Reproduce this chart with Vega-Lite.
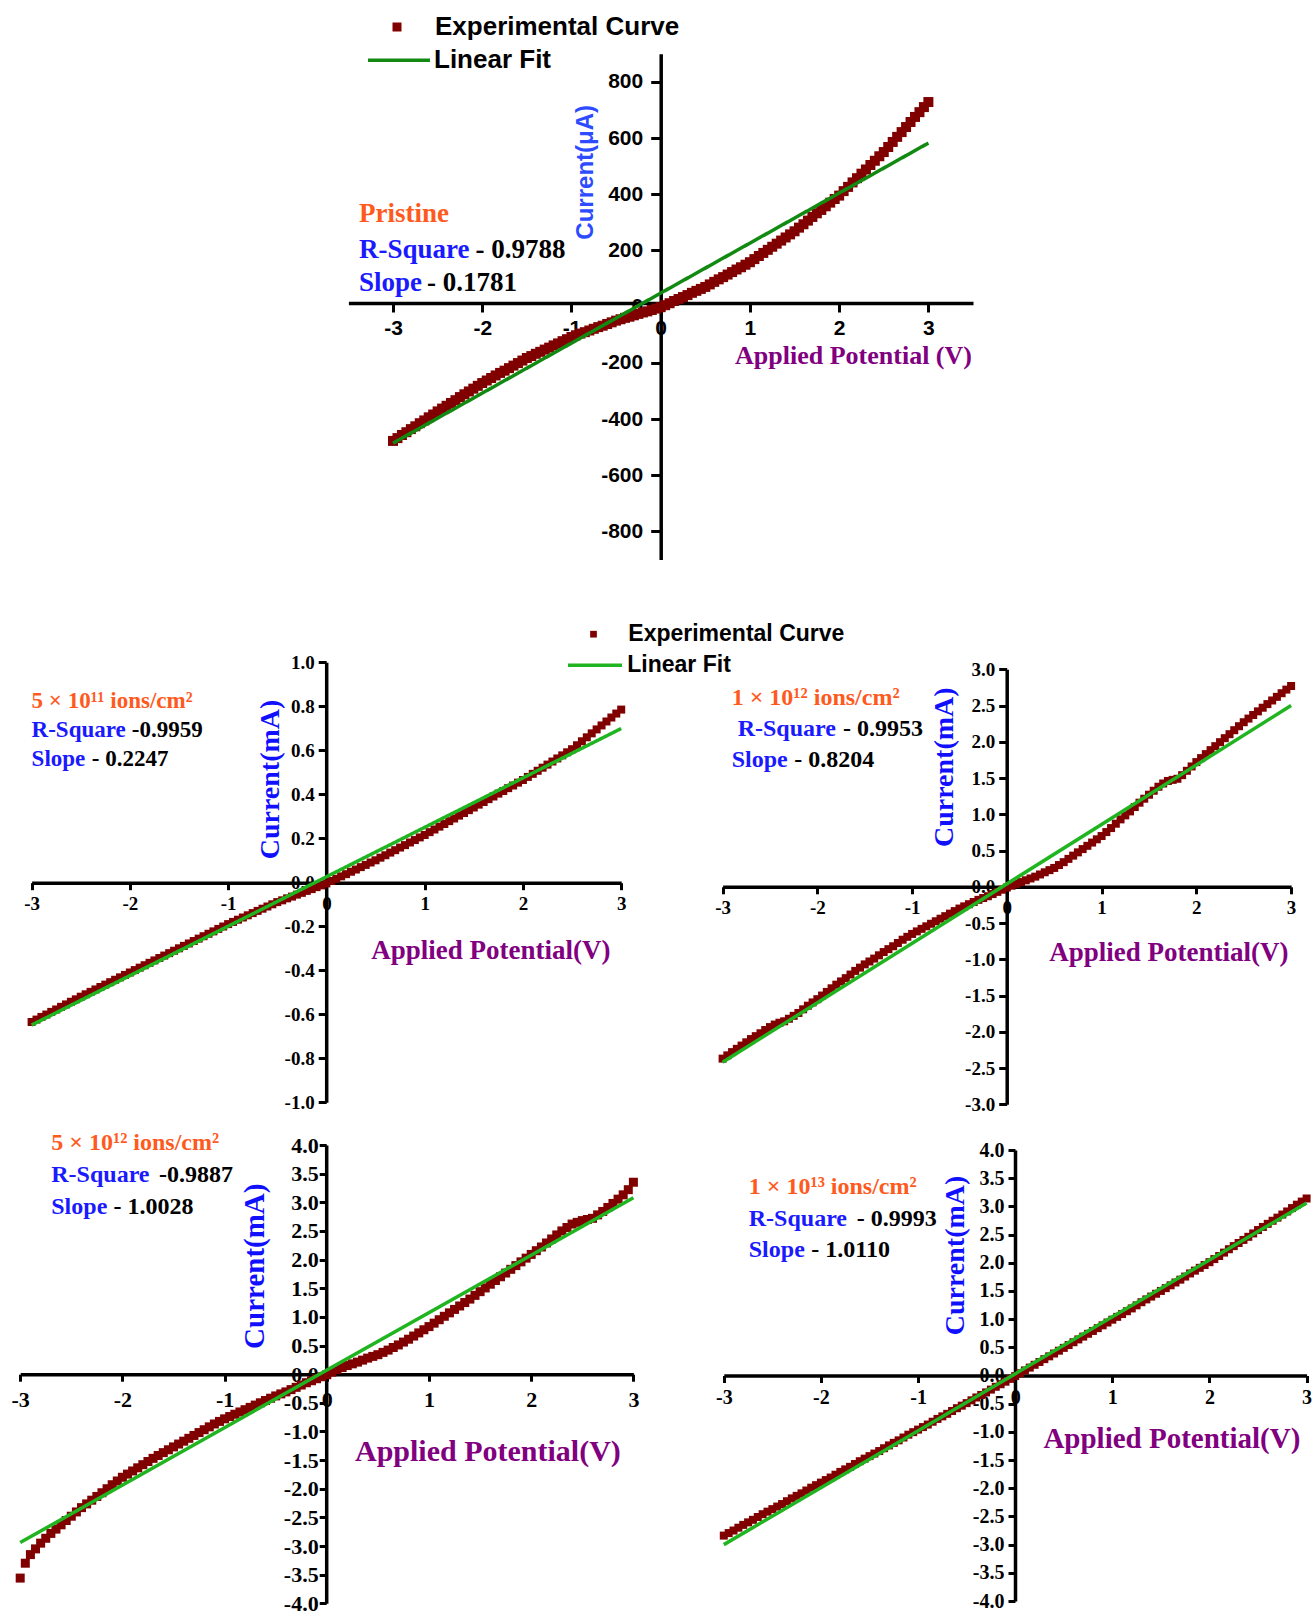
{
"$schema":"https://vega.github.io/schema/vega-lite/v6.json",
"width":1313,"height":1615,"autosize":{"type":"none"},"padding":0,"background":"white",
"config":{
 "locale":{"number":{"decimal":".","thousands":",","grouping":[3],"currency":["$",""],"minus":"-"}},
 "view":{"stroke":null},
 "axis":{"grid":false,"domainColor":"black","domainWidth":3.5,"tickColor":"black","tickWidth":3,"labelColor":"black","labelFont":"Liberation Serif","labelFontWeight":"bold","labelFlush":false,"labelOverlap":false,"titleFont":"Liberation Serif","titleFontWeight":"bold","titleAlign":"center","titleBaseline":"middle"}
},
"datasets":{
"p0":[{"v":-3,"i":-478},{"v":-2.95,"i":-468},{"v":-2.9,"i":-457},{"v":-2.85,"i":-447},{"v":-2.8,"i":-436},{"v":-2.75,"i":-426},{"v":-2.7,"i":-415},{"v":-2.65,"i":-405},{"v":-2.6,"i":-394},{"v":-2.55,"i":-384},{"v":-2.5,"i":-373},{"v":-2.45,"i":-363},{"v":-2.4,"i":-353},{"v":-2.35,"i":-343},{"v":-2.3,"i":-333},{"v":-2.25,"i":-322},{"v":-2.2,"i":-312},{"v":-2.15,"i":-302},{"v":-2.1,"i":-292},{"v":-2.05,"i":-282},{"v":-2,"i":-272},{"v":-1.95,"i":-263},{"v":-1.9,"i":-254},{"v":-1.85,"i":-245},{"v":-1.8,"i":-236},{"v":-1.75,"i":-228},{"v":-1.7,"i":-219},{"v":-1.65,"i":-210},{"v":-1.6,"i":-201},{"v":-1.55,"i":-192},{"v":-1.5,"i":-183},{"v":-1.45,"i":-176},{"v":-1.4,"i":-168},{"v":-1.35,"i":-161},{"v":-1.3,"i":-153},{"v":-1.25,"i":-146},{"v":-1.2,"i":-138},{"v":-1.15,"i":-131},{"v":-1.1,"i":-123},{"v":-1.05,"i":-116},{"v":-1,"i":-108},{"v":-0.95,"i":-102},{"v":-0.9,"i":-96},{"v":-0.85,"i":-91},{"v":-0.8,"i":-85},{"v":-0.75,"i":-79},{"v":-0.7,"i":-73},{"v":-0.65,"i":-68},{"v":-0.6,"i":-62},{"v":-0.55,"i":-56},{"v":-0.5,"i":-50},{"v":-0.45,"i":-45},{"v":-0.4,"i":-40},{"v":-0.35,"i":-36},{"v":-0.3,"i":-31},{"v":-0.25,"i":-26},{"v":-0.2,"i":-21},{"v":-0.15,"i":-17},{"v":-0.1,"i":-12},{"v":-0.05,"i":-7},{"v":0,"i":-2},{"v":0.05,"i":5},{"v":0.1,"i":12},{"v":0.15,"i":20},{"v":0.2,"i":27},{"v":0.25,"i":34},{"v":0.3,"i":41},{"v":0.35,"i":49},{"v":0.4,"i":56},{"v":0.45,"i":63},{"v":0.5,"i":70},{"v":0.55,"i":79},{"v":0.6,"i":88},{"v":0.65,"i":97},{"v":0.7,"i":105},{"v":0.75,"i":114},{"v":0.8,"i":123},{"v":0.85,"i":132},{"v":0.9,"i":140},{"v":0.95,"i":149},{"v":1,"i":158},{"v":1.05,"i":169},{"v":1.1,"i":180},{"v":1.15,"i":191},{"v":1.2,"i":202},{"v":1.25,"i":213},{"v":1.3,"i":224},{"v":1.35,"i":235},{"v":1.4,"i":246},{"v":1.45,"i":257},{"v":1.5,"i":268},{"v":1.55,"i":281},{"v":1.6,"i":293},{"v":1.65,"i":306},{"v":1.7,"i":319},{"v":1.75,"i":332},{"v":1.8,"i":344},{"v":1.85,"i":357},{"v":1.9,"i":370},{"v":1.95,"i":383},{"v":2,"i":395},{"v":2.05,"i":411},{"v":2.1,"i":426},{"v":2.15,"i":442},{"v":2.2,"i":457},{"v":2.25,"i":473},{"v":2.3,"i":488},{"v":2.35,"i":504},{"v":2.4,"i":519},{"v":2.45,"i":535},{"v":2.5,"i":550},{"v":2.55,"i":568},{"v":2.6,"i":586},{"v":2.65,"i":604},{"v":2.7,"i":621},{"v":2.75,"i":639},{"v":2.8,"i":657},{"v":2.85,"i":675},{"v":2.9,"i":692},{"v":2.95,"i":710},{"v":3,"i":728}],
"p1":[{"v":-3,"i":-0.635},{"v":-2.95,"i":-0.624},{"v":-2.9,"i":-0.612},{"v":-2.85,"i":-0.601},{"v":-2.8,"i":-0.589},{"v":-2.75,"i":-0.578},{"v":-2.7,"i":-0.566},{"v":-2.65,"i":-0.555},{"v":-2.6,"i":-0.543},{"v":-2.55,"i":-0.532},{"v":-2.5,"i":-0.52},{"v":-2.45,"i":-0.509},{"v":-2.4,"i":-0.498},{"v":-2.35,"i":-0.487},{"v":-2.3,"i":-0.476},{"v":-2.25,"i":-0.465},{"v":-2.2,"i":-0.454},{"v":-2.15,"i":-0.443},{"v":-2.1,"i":-0.432},{"v":-2.05,"i":-0.421},{"v":-2,"i":-0.41},{"v":-1.95,"i":-0.399},{"v":-1.9,"i":-0.388},{"v":-1.85,"i":-0.377},{"v":-1.8,"i":-0.366},{"v":-1.75,"i":-0.355},{"v":-1.7,"i":-0.344},{"v":-1.65,"i":-0.333},{"v":-1.6,"i":-0.322},{"v":-1.55,"i":-0.311},{"v":-1.5,"i":-0.3},{"v":-1.45,"i":-0.289},{"v":-1.4,"i":-0.278},{"v":-1.35,"i":-0.267},{"v":-1.3,"i":-0.256},{"v":-1.25,"i":-0.245},{"v":-1.2,"i":-0.234},{"v":-1.15,"i":-0.223},{"v":-1.1,"i":-0.212},{"v":-1.05,"i":-0.201},{"v":-1,"i":-0.19},{"v":-0.95,"i":-0.18},{"v":-0.9,"i":-0.17},{"v":-0.85,"i":-0.16},{"v":-0.8,"i":-0.15},{"v":-0.75,"i":-0.14},{"v":-0.7,"i":-0.13},{"v":-0.65,"i":-0.12},{"v":-0.6,"i":-0.11},{"v":-0.55,"i":-0.1},{"v":-0.5,"i":-0.09},{"v":-0.45,"i":-0.082},{"v":-0.4,"i":-0.073},{"v":-0.35,"i":-0.065},{"v":-0.3,"i":-0.056},{"v":-0.25,"i":-0.048},{"v":-0.2,"i":-0.039},{"v":-0.15,"i":-0.031},{"v":-0.1,"i":-0.022},{"v":-0.05,"i":-0.014},{"v":0,"i":-0.005},{"v":0.05,"i":0.006},{"v":0.1,"i":0.016},{"v":0.15,"i":0.027},{"v":0.2,"i":0.037},{"v":0.25,"i":0.048},{"v":0.3,"i":0.058},{"v":0.35,"i":0.069},{"v":0.4,"i":0.079},{"v":0.45,"i":0.09},{"v":0.5,"i":0.1},{"v":0.55,"i":0.112},{"v":0.6,"i":0.123},{"v":0.65,"i":0.135},{"v":0.7,"i":0.146},{"v":0.75,"i":0.158},{"v":0.8,"i":0.169},{"v":0.85,"i":0.181},{"v":0.9,"i":0.192},{"v":0.95,"i":0.204},{"v":1,"i":0.215},{"v":1.05,"i":0.228},{"v":1.1,"i":0.24},{"v":1.15,"i":0.253},{"v":1.2,"i":0.265},{"v":1.25,"i":0.278},{"v":1.3,"i":0.29},{"v":1.35,"i":0.303},{"v":1.4,"i":0.315},{"v":1.45,"i":0.328},{"v":1.5,"i":0.34},{"v":1.55,"i":0.353},{"v":1.6,"i":0.365},{"v":1.65,"i":0.378},{"v":1.7,"i":0.39},{"v":1.75,"i":0.403},{"v":1.8,"i":0.415},{"v":1.85,"i":0.428},{"v":1.9,"i":0.44},{"v":1.95,"i":0.453},{"v":2,"i":0.465},{"v":2.05,"i":0.479},{"v":2.1,"i":0.493},{"v":2.15,"i":0.507},{"v":2.2,"i":0.521},{"v":2.25,"i":0.535},{"v":2.3,"i":0.549},{"v":2.35,"i":0.563},{"v":2.4,"i":0.577},{"v":2.45,"i":0.591},{"v":2.5,"i":0.605},{"v":2.55,"i":0.623},{"v":2.6,"i":0.641},{"v":2.65,"i":0.659},{"v":2.7,"i":0.677},{"v":2.75,"i":0.695},{"v":2.8,"i":0.713},{"v":2.85,"i":0.731},{"v":2.9,"i":0.749},{"v":2.95,"i":0.767},{"v":3,"i":0.785}],
"p2":[{"v":-3,"i":-2.37},{"v":-2.95,"i":-2.325},{"v":-2.9,"i":-2.28},{"v":-2.85,"i":-2.235},{"v":-2.8,"i":-2.19},{"v":-2.75,"i":-2.145},{"v":-2.7,"i":-2.1},{"v":-2.65,"i":-2.06},{"v":-2.6,"i":-2.02},{"v":-2.55,"i":-1.975},{"v":-2.5,"i":-1.935},{"v":-2.45,"i":-1.9},{"v":-2.4,"i":-1.875},{"v":-2.35,"i":-1.855},{"v":-2.3,"i":-1.82},{"v":-2.25,"i":-1.78},{"v":-2.2,"i":-1.74},{"v":-2.15,"i":-1.69},{"v":-2.1,"i":-1.64},{"v":-2.05,"i":-1.595},{"v":-2,"i":-1.55},{"v":-1.95,"i":-1.5},{"v":-1.9,"i":-1.45},{"v":-1.85,"i":-1.4},{"v":-1.8,"i":-1.35},{"v":-1.75,"i":-1.305},{"v":-1.7,"i":-1.26},{"v":-1.65,"i":-1.21},{"v":-1.6,"i":-1.16},{"v":-1.55,"i":-1.115},{"v":-1.5,"i":-1.07},{"v":-1.45,"i":-1.03},{"v":-1.4,"i":-0.99},{"v":-1.35,"i":-0.945},{"v":-1.3,"i":-0.9},{"v":-1.25,"i":-0.86},{"v":-1.2,"i":-0.82},{"v":-1.15,"i":-0.775},{"v":-1.1,"i":-0.73},{"v":-1.05,"i":-0.69},{"v":-1,"i":-0.65},{"v":-0.95,"i":-0.615},{"v":-0.9,"i":-0.58},{"v":-0.85,"i":-0.545},{"v":-0.8,"i":-0.51},{"v":-0.75,"i":-0.475},{"v":-0.7,"i":-0.44},{"v":-0.65,"i":-0.405},{"v":-0.6,"i":-0.37},{"v":-0.55,"i":-0.335},{"v":-0.5,"i":-0.3},{"v":-0.45,"i":-0.27},{"v":-0.4,"i":-0.24},{"v":-0.35,"i":-0.21},{"v":-0.3,"i":-0.18},{"v":-0.25,"i":-0.155},{"v":-0.2,"i":-0.13},{"v":-0.15,"i":-0.1},{"v":-0.1,"i":-0.07},{"v":-0.05,"i":-0.04},{"v":0,"i":-0.01},{"v":0.05,"i":0.015},{"v":0.1,"i":0.04},{"v":0.15,"i":0.065},{"v":0.2,"i":0.09},{"v":0.25,"i":0.115},{"v":0.3,"i":0.14},{"v":0.35,"i":0.17},{"v":0.4,"i":0.2},{"v":0.45,"i":0.23},{"v":0.5,"i":0.26},{"v":0.55,"i":0.3},{"v":0.6,"i":0.34},{"v":0.65,"i":0.385},{"v":0.7,"i":0.43},{"v":0.75,"i":0.475},{"v":0.8,"i":0.52},{"v":0.85,"i":0.565},{"v":0.9,"i":0.61},{"v":0.95,"i":0.655},{"v":1,"i":0.7},{"v":1.05,"i":0.755},{"v":1.1,"i":0.81},{"v":1.15,"i":0.87},{"v":1.2,"i":0.93},{"v":1.25,"i":0.985},{"v":1.3,"i":1.04},{"v":1.35,"i":1.1},{"v":1.4,"i":1.16},{"v":1.45,"i":1.215},{"v":1.5,"i":1.27},{"v":1.55,"i":1.325},{"v":1.6,"i":1.38},{"v":1.65,"i":1.425},{"v":1.7,"i":1.46},{"v":1.75,"i":1.475},{"v":1.8,"i":1.49},{"v":1.85,"i":1.54},{"v":1.9,"i":1.6},{"v":1.95,"i":1.66},{"v":2,"i":1.72},{"v":2.05,"i":1.775},{"v":2.1,"i":1.83},{"v":2.15,"i":1.885},{"v":2.2,"i":1.94},{"v":2.25,"i":1.995},{"v":2.3,"i":2.05},{"v":2.35,"i":2.105},{"v":2.4,"i":2.16},{"v":2.45,"i":2.215},{"v":2.5,"i":2.27},{"v":2.55,"i":2.32},{"v":2.6,"i":2.37},{"v":2.65,"i":2.42},{"v":2.7,"i":2.47},{"v":2.75,"i":2.52},{"v":2.8,"i":2.57},{"v":2.85,"i":2.62},{"v":2.9,"i":2.67},{"v":2.95,"i":2.72},{"v":3,"i":2.77}],
"p3":[{"v":-3,"i":-3.56},{"v":-2.95,"i":-3.3},{"v":-2.9,"i":-3.15},{"v":-2.85,"i":-3.05},{"v":-2.8,"i":-2.95},{"v":-2.75,"i":-2.865},{"v":-2.7,"i":-2.78},{"v":-2.65,"i":-2.705},{"v":-2.6,"i":-2.63},{"v":-2.55,"i":-2.555},{"v":-2.5,"i":-2.48},{"v":-2.45,"i":-2.405},{"v":-2.4,"i":-2.33},{"v":-2.35,"i":-2.265},{"v":-2.3,"i":-2.2},{"v":-2.25,"i":-2.135},{"v":-2.2,"i":-2.07},{"v":-2.15,"i":-2},{"v":-2.1,"i":-1.93},{"v":-2.05,"i":-1.865},{"v":-2,"i":-1.8},{"v":-1.95,"i":-1.745},{"v":-1.9,"i":-1.69},{"v":-1.85,"i":-1.635},{"v":-1.8,"i":-1.58},{"v":-1.75,"i":-1.525},{"v":-1.7,"i":-1.47},{"v":-1.65,"i":-1.42},{"v":-1.6,"i":-1.37},{"v":-1.55,"i":-1.32},{"v":-1.5,"i":-1.27},{"v":-1.45,"i":-1.22},{"v":-1.4,"i":-1.17},{"v":-1.35,"i":-1.12},{"v":-1.3,"i":-1.07},{"v":-1.25,"i":-1.02},{"v":-1.2,"i":-0.97},{"v":-1.15,"i":-0.92},{"v":-1.1,"i":-0.87},{"v":-1.05,"i":-0.825},{"v":-1,"i":-0.78},{"v":-0.95,"i":-0.74},{"v":-0.9,"i":-0.7},{"v":-0.85,"i":-0.66},{"v":-0.8,"i":-0.62},{"v":-0.75,"i":-0.58},{"v":-0.7,"i":-0.54},{"v":-0.65,"i":-0.5},{"v":-0.6,"i":-0.46},{"v":-0.55,"i":-0.42},{"v":-0.5,"i":-0.38},{"v":-0.45,"i":-0.345},{"v":-0.4,"i":-0.31},{"v":-0.35,"i":-0.27},{"v":-0.3,"i":-0.23},{"v":-0.25,"i":-0.19},{"v":-0.2,"i":-0.15},{"v":-0.15,"i":-0.115},{"v":-0.1,"i":-0.08},{"v":-0.05,"i":-0.045},{"v":0,"i":-0.01},{"v":0.05,"i":0.035},{"v":0.1,"i":0.08},{"v":0.15,"i":0.115},{"v":0.2,"i":0.15},{"v":0.25,"i":0.18},{"v":0.3,"i":0.21},{"v":0.35,"i":0.245},{"v":0.4,"i":0.28},{"v":0.45,"i":0.31},{"v":0.5,"i":0.34},{"v":0.55,"i":0.38},{"v":0.6,"i":0.42},{"v":0.65,"i":0.465},{"v":0.7,"i":0.51},{"v":0.75,"i":0.56},{"v":0.8,"i":0.61},{"v":0.85,"i":0.665},{"v":0.9,"i":0.72},{"v":0.95,"i":0.775},{"v":1,"i":0.83},{"v":1.05,"i":0.89},{"v":1.1,"i":0.95},{"v":1.15,"i":1.01},{"v":1.2,"i":1.07},{"v":1.25,"i":1.13},{"v":1.3,"i":1.19},{"v":1.35,"i":1.25},{"v":1.4,"i":1.31},{"v":1.45,"i":1.375},{"v":1.5,"i":1.44},{"v":1.55,"i":1.505},{"v":1.6,"i":1.57},{"v":1.65,"i":1.635},{"v":1.7,"i":1.7},{"v":1.75,"i":1.765},{"v":1.8,"i":1.83},{"v":1.85,"i":1.895},{"v":1.9,"i":1.96},{"v":1.95,"i":2.025},{"v":2,"i":2.09},{"v":2.05,"i":2.155},{"v":2.1,"i":2.22},{"v":2.15,"i":2.29},{"v":2.2,"i":2.36},{"v":2.25,"i":2.43},{"v":2.3,"i":2.5},{"v":2.35,"i":2.56},{"v":2.4,"i":2.62},{"v":2.45,"i":2.65},{"v":2.5,"i":2.68},{"v":2.55,"i":2.7},{"v":2.6,"i":2.72},{"v":2.65,"i":2.78},{"v":2.7,"i":2.84},{"v":2.75,"i":2.91},{"v":2.8,"i":2.98},{"v":2.85,"i":3.055},{"v":2.9,"i":3.13},{"v":2.95,"i":3.22},{"v":3,"i":3.35}],
"p4":[{"v":-3,"i":-2.84},{"v":-2.95,"i":-2.795},{"v":-2.9,"i":-2.75},{"v":-2.85,"i":-2.7},{"v":-2.8,"i":-2.65},{"v":-2.75,"i":-2.605},{"v":-2.7,"i":-2.56},{"v":-2.65,"i":-2.51},{"v":-2.6,"i":-2.46},{"v":-2.55,"i":-2.415},{"v":-2.5,"i":-2.37},{"v":-2.45,"i":-2.325},{"v":-2.4,"i":-2.28},{"v":-2.35,"i":-2.23},{"v":-2.3,"i":-2.18},{"v":-2.25,"i":-2.135},{"v":-2.2,"i":-2.09},{"v":-2.15,"i":-2.04},{"v":-2.1,"i":-1.99},{"v":-2.05,"i":-1.945},{"v":-2,"i":-1.9},{"v":-1.95,"i":-1.855},{"v":-1.9,"i":-1.81},{"v":-1.85,"i":-1.76},{"v":-1.8,"i":-1.71},{"v":-1.75,"i":-1.665},{"v":-1.7,"i":-1.62},{"v":-1.65,"i":-1.57},{"v":-1.6,"i":-1.52},{"v":-1.55,"i":-1.475},{"v":-1.5,"i":-1.43},{"v":-1.45,"i":-1.385},{"v":-1.4,"i":-1.34},{"v":-1.35,"i":-1.29},{"v":-1.3,"i":-1.24},{"v":-1.25,"i":-1.195},{"v":-1.2,"i":-1.15},{"v":-1.15,"i":-1.1},{"v":-1.1,"i":-1.05},{"v":-1.05,"i":-1.005},{"v":-1,"i":-0.96},{"v":-0.95,"i":-0.915},{"v":-0.9,"i":-0.87},{"v":-0.85,"i":-0.82},{"v":-0.8,"i":-0.77},{"v":-0.75,"i":-0.725},{"v":-0.7,"i":-0.68},{"v":-0.65,"i":-0.63},{"v":-0.6,"i":-0.58},{"v":-0.55,"i":-0.535},{"v":-0.5,"i":-0.49},{"v":-0.45,"i":-0.44},{"v":-0.4,"i":-0.39},{"v":-0.35,"i":-0.345},{"v":-0.3,"i":-0.3},{"v":-0.25,"i":-0.25},{"v":-0.2,"i":-0.2},{"v":-0.15,"i":-0.155},{"v":-0.1,"i":-0.11},{"v":-0.05,"i":-0.06},{"v":0,"i":-0.01},{"v":0.05,"i":0.04},{"v":0.1,"i":0.09},{"v":0.15,"i":0.14},{"v":0.2,"i":0.19},{"v":0.25,"i":0.24},{"v":0.3,"i":0.29},{"v":0.35,"i":0.34},{"v":0.4,"i":0.39},{"v":0.45,"i":0.44},{"v":0.5,"i":0.49},{"v":0.55,"i":0.54},{"v":0.6,"i":0.59},{"v":0.65,"i":0.64},{"v":0.7,"i":0.69},{"v":0.75,"i":0.74},{"v":0.8,"i":0.79},{"v":0.85,"i":0.84},{"v":0.9,"i":0.89},{"v":0.95,"i":0.94},{"v":1,"i":0.99},{"v":1.05,"i":1.04},{"v":1.1,"i":1.09},{"v":1.15,"i":1.14},{"v":1.2,"i":1.19},{"v":1.25,"i":1.245},{"v":1.3,"i":1.3},{"v":1.35,"i":1.35},{"v":1.4,"i":1.4},{"v":1.45,"i":1.45},{"v":1.5,"i":1.5},{"v":1.55,"i":1.55},{"v":1.6,"i":1.6},{"v":1.65,"i":1.65},{"v":1.7,"i":1.7},{"v":1.75,"i":1.755},{"v":1.8,"i":1.81},{"v":1.85,"i":1.86},{"v":1.9,"i":1.91},{"v":1.95,"i":1.96},{"v":2,"i":2.01},{"v":2.05,"i":2.065},{"v":2.1,"i":2.12},{"v":2.15,"i":2.18},{"v":2.2,"i":2.24},{"v":2.25,"i":2.295},{"v":2.3,"i":2.35},{"v":2.35,"i":2.405},{"v":2.4,"i":2.46},{"v":2.45,"i":2.52},{"v":2.5,"i":2.58},{"v":2.55,"i":2.635},{"v":2.6,"i":2.69},{"v":2.65,"i":2.745},{"v":2.7,"i":2.8},{"v":2.75,"i":2.855},{"v":2.8,"i":2.91},{"v":2.85,"i":2.97},{"v":2.9,"i":3.03},{"v":2.95,"i":3.085},{"v":3,"i":3.14}],
"f0":[{"v":-3,"i":-486},{"v":3,"i":582}],
"f1":[{"v":-3,"i":-0.649},{"v":3,"i":0.699}],
"f2":[{"v":-3,"i":-2.42},{"v":3,"i":2.5}],
"f3":[{"v":-3,"i":-2.94},{"v":3,"i":3.08}],
"f4":[{"v":-3,"i":-3.0},{"v":3,"i":3.06}]
},
"layer":[
{"layer":[
 {"data":{"name":"p0"},"mark":{"type":"point","shape":"square","filled":true,"opacity":1,"color":"#800000","size":100,"strokeWidth":0},
  "encoding":{
   "x":{"field":"v","type":"quantitative","scale":{"domain":[-3.5,3.5],"range":[348.4,973],"nice":false,"zero":false},
        "axis":{"orient":"bottom","offset":-1312,"values":[-3,-2,-1,0,1,2,3],"format":"d","labelFont":"Liberation Sans","labelFontSize":21,"labelPadding":5,"tickSize":9,"title":"Applied Potential (V)","titleFontSize":26,"titleColor":"#800080","titleX":853,"titleY":52.5,"titleAngle":0}},
   "y":{"field":"i","type":"quantitative","scale":{"domain":[-900,900],"range":[559.5,53.7],"nice":false,"zero":false},
        "axis":{"orient":"left","offset":-660.7,"values":[-800,-600,-400,-200,0,200,400,600,800],"format":"d","labelFont":"Liberation Sans","labelFontSize":21,"labelPadding":8,"tickSize":10,"title":"Current(μA)","titleFont":"Liberation Sans","titleFontSize":24,"titleColor":"#2D4BFF","titleX":-75.7,"titleY":171.8,"titleAngle":270}},
   "shape":{"datum":"Experimental Curve","scale":{"range":["square"]},
        "legend":{"title":null,"orient":"none","legendX":384,"legendY":14,"padding":0,"labelFont":"Liberation Sans","labelFontWeight":"bold","labelFontSize":26,"labelColor":"black","labelLimit":400,"labelOffset":25,"symbolSize":81,"symbolFillColor":"#800000","symbolStrokeWidth":0,"symbolOpacity":1}}}},
 {"data":{"name":"f0"},"mark":{"type":"line","color":"#128A12","strokeWidth":3.5},
  "encoding":{"x":{"field":"v","type":"quantitative"},"y":{"field":"i","type":"quantitative"},
   "strokeDash":{"datum":"Linear Fit","scale":{"range":[[1,0]]},
        "legend":{"title":null,"orient":"none","legendX":366,"legendY":27.2,"padding":0,"labelFont":"Liberation Sans","labelFontWeight":"bold","labelFontSize":26,"labelColor":"black","labelLimit":400,"labelOffset":2,"symbolType":"stroke","symbolSize":3844,"symbolStrokeColor":"#128A12","symbolStrokeWidth":3.5}}}},
 {"data":{"values":[{"t":"Pristine","v":-3.381,"i":327.8}]},"mark":{"type":"text","font":"Liberation Serif","fontWeight":"bold","fontSize":27,"align":"left","baseline":"middle","color":"#FF5A1E"},
  "encoding":{"x":{"field":"v","type":"quantitative"},"y":{"field":"i","type":"quantitative"},"text":{"field":"t"}}},
 {"data":{"values":[{"t":"R-Square","v":-3.381,"i":201.4},{"t":"Slope","v":-3.381,"i":84.7}]},"mark":{"type":"text","font":"Liberation Serif","fontWeight":"bold","fontSize":27,"align":"left","baseline":"middle","color":"#1A1AFF"},
  "encoding":{"x":{"field":"v","type":"quantitative"},"y":{"field":"i","type":"quantitative"},"text":{"field":"t"}}},
 {"data":{"values":[{"t":"- 0.9788","v":-2.076,"i":201.4},{"t":"- 0.1781","v":-2.618,"i":84.7}]},"mark":{"type":"text","font":"Liberation Serif","fontWeight":"bold","fontSize":27,"align":"left","baseline":"middle","color":"black"},
  "encoding":{"x":{"field":"v","type":"quantitative"},"y":{"field":"i","type":"quantitative"},"text":{"field":"t"}}}
]},
{"layer":[
 {"data":{"name":"p1"},"mark":{"type":"point","shape":"square","filled":true,"opacity":1,"color":"#800000","size":64,"strokeWidth":0},
  "encoding":{
   "x":{"field":"v","type":"quantitative","scale":{"domain":[-3,3],"range":[31.6,621.2],"nice":false,"zero":false},
        "axis":{"orient":"bottom","offset":-732.3,"values":[-3,-2,-1,0,1,2,3],"format":"d","labelFontSize":19,"labelPadding":5,"tickSize":7,"title":"Applied Potential(V)","titleFontSize":27,"titleColor":"#800080","titleX":490.3,"titleY":68,"titleAngle":0}},
   "y":{"field":"i","type":"quantitative","scale":{"domain":[-1,1],"range":[1102.3,662.3],"nice":false,"zero":false},
        "axis":{"orient":"left","offset":-326.2,"values":[-1,-0.8,-0.6,-0.4,-0.2,0,0.2,0.4,0.6,0.8,1],"format":".1f","labelFontSize":19,"labelPadding":4,"tickSize":8,"title":"Current(mA)","titleFontSize":28,"titleColor":"#1010FF","titleX":-55.7,"titleY":779,"titleAngle":270}},
   "shape":{"datum":"Experimental Curve","scale":{"range":["square"]},
        "legend":{"title":null,"orient":"none","legendX":582,"legendY":622.7,"padding":0,"labelFont":"Liberation Sans","labelFontWeight":"bold","labelFontSize":23,"labelColor":"black","labelLimit":400,"labelOffset":23.3,"symbolSize":45,"symbolFillColor":"#800000","symbolStrokeWidth":0,"symbolOpacity":1}}}},
 {"data":{"name":"f1"},"mark":{"type":"line","color":"#20B420","strokeWidth":3.5},
  "encoding":{"x":{"field":"v","type":"quantitative"},"y":{"field":"i","type":"quantitative"},
   "strokeDash":{"datum":"Linear Fit","scale":{"range":[[1,0]]},
        "legend":{"title":null,"orient":"none","legendX":566,"legendY":636.3,"padding":0,"labelFont":"Liberation Sans","labelFontWeight":"bold","labelFontSize":23,"labelColor":"black","labelLimit":400,"labelOffset":3.3,"symbolType":"stroke","symbolSize":2916,"symbolStrokeColor":"#20B420","symbolStrokeWidth":3.5}}}},
 {"data":{"values":[{"t":"5 × 10¹¹ ions/cm²","v":-3.0,"i":0.8255}]},"mark":{"type":"text","font":"Liberation Serif","fontWeight":"bold","fontSize":23,"align":"left","baseline":"middle","color":"#FF5A1E"},
  "encoding":{"x":{"field":"v","type":"quantitative"},"y":{"field":"i","type":"quantitative"},"text":{"field":"t"}}},
 {"data":{"values":[{"t":"R-Square","v":-3.0,"i":0.692},{"t":"Slope","v":-3.0,"i":0.5605}]},"mark":{"type":"text","font":"Liberation Serif","fontWeight":"bold","fontSize":23,"align":"left","baseline":"middle","color":"#1A1AFF"},
  "encoding":{"x":{"field":"v","type":"quantitative"},"y":{"field":"i","type":"quantitative"},"text":{"field":"t"}}},
 {"data":{"values":[{"t":"-0.9959","v":-1.981,"i":0.692},{"t":"- 0.2247","v":-2.387,"i":0.5605}]},"mark":{"type":"text","font":"Liberation Serif","fontWeight":"bold","fontSize":23,"align":"left","baseline":"middle","color":"black"},
  "encoding":{"x":{"field":"v","type":"quantitative"},"y":{"field":"i","type":"quantitative"},"text":{"field":"t"}}}
]},
{"layer":[
 {"data":{"name":"p2"},"mark":{"type":"point","shape":"square","filled":true,"opacity":1,"color":"#800000","size":64,"strokeWidth":0},
  "encoding":{
   "x":{"field":"v","type":"quantitative","scale":{"domain":[-3,3],"range":[722.6,1291.1],"nice":false,"zero":false},
        "axis":{"orient":"bottom","offset":-728.2,"values":[-3,-2,-1,0,1,2,3],"format":"d","labelFontSize":19,"labelPadding":5,"tickSize":7,"title":"Applied Potential(V)","titleFontSize":27,"titleColor":"#800080","titleX":1168.4,"titleY":65.5,"titleAngle":0}},
   "y":{"field":"i","type":"quantitative","scale":{"domain":[-3,3],"range":[1104.3,669.3],"nice":false,"zero":false},
        "axis":{"orient":"left","offset":-1006.7,"values":[-3,-2.5,-2,-1.5,-1,-0.5,0,0.5,1,1.5,2,2.5,3],"format":".1f","labelFontSize":19,"labelPadding":4,"tickSize":8,"title":"Current(mA)","titleFontSize":28,"titleColor":"#1010FF","titleX":-62.4,"titleY":766.7,"titleAngle":270}}}},
 {"data":{"name":"f2"},"mark":{"type":"line","color":"#20B420","strokeWidth":3.5},
  "encoding":{"x":{"field":"v","type":"quantitative"},"y":{"field":"i","type":"quantitative"}}},
 {"data":{"values":[{"t":"1 × 10¹² ions/cm²","v":-2.904,"i":2.6}]},"mark":{"type":"text","font":"Liberation Serif","fontWeight":"bold","fontSize":24,"align":"left","baseline":"middle","color":"#FF5A1E"},
  "encoding":{"x":{"field":"v","type":"quantitative"},"y":{"field":"i","type":"quantitative"},"text":{"field":"t"}}},
 {"data":{"values":[{"t":"R-Square","v":-2.841,"i":2.172},{"t":"Slope","v":-2.904,"i":1.749}]},"mark":{"type":"text","font":"Liberation Serif","fontWeight":"bold","fontSize":24,"align":"left","baseline":"middle","color":"#1A1AFF"},
  "encoding":{"x":{"field":"v","type":"quantitative"},"y":{"field":"i","type":"quantitative"},"text":{"field":"t"}}},
 {"data":{"values":[{"t":"- 0.9953","v":-1.729,"i":2.172},{"t":"- 0.8204","v":-2.245,"i":1.749}]},"mark":{"type":"text","font":"Liberation Serif","fontWeight":"bold","fontSize":24,"align":"left","baseline":"middle","color":"black"},
  "encoding":{"x":{"field":"v","type":"quantitative"},"y":{"field":"i","type":"quantitative"},"text":{"field":"t"}}}
]},
{"layer":[
 {"data":{"name":"p3"},"mark":{"type":"point","shape":"square","filled":true,"opacity":1,"color":"#800000","size":81,"strokeWidth":0},
  "encoding":{
   "x":{"field":"v","type":"quantitative","scale":{"domain":[-3,3],"range":[20.2,633.4],"nice":false,"zero":false},
        "axis":{"orient":"bottom","offset":-240.8,"values":[-3,-2,-1,0,1,2,3],"format":"d","labelFontSize":22,"labelPadding":8,"tickSize":7,"title":"Applied Potential(V)","titleFontSize":30,"titleColor":"#800080","titleX":487.4,"titleY":77.5,"titleAngle":0}},
   "y":{"field":"i","type":"quantitative","scale":{"domain":[-4,4],"range":[1603.3,1145],"nice":false,"zero":false},
        "axis":{"orient":"left","offset":-326.2,"values":[-4,-3.5,-3,-2.5,-2,-1.5,-1,-0.5,0,0.5,1,1.5,2,2.5,3,3.5,4],"format":".1f","labelFontSize":22,"labelPadding":1,"tickSize":7,"title":"Current(mA)","titleFontSize":29,"titleColor":"#1010FF","titleX":-71.6,"titleY":1265.7,"titleAngle":270}}}},
 {"data":{"name":"f3"},"mark":{"type":"line","color":"#20B420","strokeWidth":3.5},
  "encoding":{"x":{"field":"v","type":"quantitative"},"y":{"field":"i","type":"quantitative"}}},
 {"data":{"values":[{"t":"5 × 10¹² ions/cm²","v":-2.696,"i":4.03}]},"mark":{"type":"text","font":"Liberation Serif","fontWeight":"bold","fontSize":24,"align":"left","baseline":"middle","color":"#FF5A1E"},
  "encoding":{"x":{"field":"v","type":"quantitative"},"y":{"field":"i","type":"quantitative"},"text":{"field":"t"}}},
 {"data":{"values":[{"t":"R-Square","v":-2.696,"i":3.476},{"t":"Slope","v":-2.696,"i":2.923}]},"mark":{"type":"text","font":"Liberation Serif","fontWeight":"bold","fontSize":24,"align":"left","baseline":"middle","color":"#1A1AFF"},
  "encoding":{"x":{"field":"v","type":"quantitative"},"y":{"field":"i","type":"quantitative"},"text":{"field":"t"}}},
 {"data":{"values":[{"t":"-0.9887","v":-1.641,"i":3.476},{"t":"- 1.0028","v":-2.086,"i":2.923}]},"mark":{"type":"text","font":"Liberation Serif","fontWeight":"bold","fontSize":24,"align":"left","baseline":"middle","color":"black"},
  "encoding":{"x":{"field":"v","type":"quantitative"},"y":{"field":"i","type":"quantitative"},"text":{"field":"t"}}}
]},
{"layer":[
 {"data":{"name":"p4"},"mark":{"type":"point","shape":"square","filled":true,"opacity":1,"color":"#800000","size":64,"strokeWidth":0},
  "encoding":{
   "x":{"field":"v","type":"quantitative","scale":{"domain":[-3,3],"range":[723.8,1306.6],"nice":false,"zero":false},
        "axis":{"orient":"bottom","offset":-239.5,"values":[-3,-2,-1,0,1,2,3],"format":"d","labelFontSize":20,"labelPadding":5,"tickSize":7,"title":"Applied Potential(V)","titleFontSize":29,"titleColor":"#800080","titleX":1171.4,"titleY":62.8,"titleAngle":0}},
   "y":{"field":"i","type":"quantitative","scale":{"domain":[-4,4],"range":[1601,1150],"nice":false,"zero":false},
        "axis":{"orient":"left","offset":-1015,"values":[-4,-3.5,-3,-2.5,-2,-1.5,-1,-0.5,0,0.5,1,1.5,2,2.5,3,3.5,4],"format":".1f","labelFontSize":20,"labelPadding":4,"tickSize":7,"title":"Current(mA)","titleFontSize":28,"titleColor":"#1010FF","titleX":-59.6,"titleY":1255,"titleAngle":270}}}},
 {"data":{"name":"f4"},"mark":{"type":"line","color":"#20B420","strokeWidth":3.5},
  "encoding":{"x":{"field":"v","type":"quantitative"},"y":{"field":"i","type":"quantitative"}}},
 {"data":{"values":[{"t":"1 × 10¹³ ions/cm²","v":-2.743,"i":3.338}]},"mark":{"type":"text","font":"Liberation Serif","fontWeight":"bold","fontSize":24,"align":"left","baseline":"middle","color":"#FF5A1E"},
  "encoding":{"x":{"field":"v","type":"quantitative"},"y":{"field":"i","type":"quantitative"},"text":{"field":"t"}}},
 {"data":{"values":[{"t":"R-Square","v":-2.743,"i":2.776},{"t":"Slope","v":-2.743,"i":2.226}]},"mark":{"type":"text","font":"Liberation Serif","fontWeight":"bold","fontSize":24,"align":"left","baseline":"middle","color":"#1A1AFF"},
  "encoding":{"x":{"field":"v","type":"quantitative"},"y":{"field":"i","type":"quantitative"},"text":{"field":"t"}}},
 {"data":{"values":[{"t":"- 0.9993","v":-1.63,"i":2.776},{"t":"- 1.0110","v":-2.1,"i":2.226}]},"mark":{"type":"text","font":"Liberation Serif","fontWeight":"bold","fontSize":24,"align":"left","baseline":"middle","color":"black"},
  "encoding":{"x":{"field":"v","type":"quantitative"},"y":{"field":"i","type":"quantitative"},"text":{"field":"t"}}}
]}
],
"resolve":{"scale":{"x":"independent","y":"independent","shape":"independent","strokeDash":"independent"},"axis":{"x":"independent","y":"independent"},"legend":{"shape":"independent","strokeDash":"independent"}}
}
